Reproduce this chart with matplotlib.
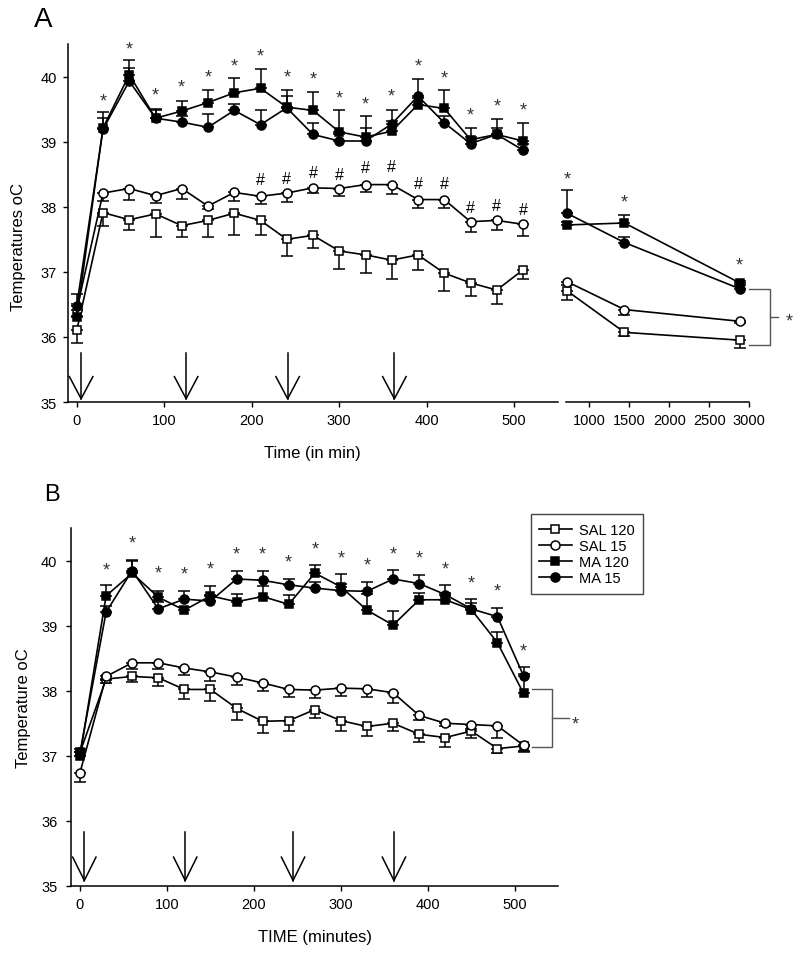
import matplotlib
matplotlib.use('Agg')
import matplotlib.pyplot as plt

plt.rcParams['font.family'] = ['Liberation Sans', 'DejaVu Sans']

# ---------------- data ----------------
times = [0, 30, 60, 90, 120, 150, 180, 210, 240, 270, 300, 330, 360, 390, 420, 450, 480, 510]
times_late = [720, 1440, 2880]

labels = ['SAL 120', 'SAL 15', 'MA 120', 'MA 15']

# Panel A (early time course)
A_sal120 = [36.10, 37.91, 37.80, 37.89, 37.71, 37.79, 37.90, 37.79, 37.50, 37.56, 37.32, 37.26, 37.18, 37.26, 36.98, 36.83, 36.72, 37.03]
A_sal120_err = [0.19, 0.20, 0.15, 0.35, 0.18, 0.25, 0.34, 0.22, 0.26, 0.19, 0.28, 0.28, 0.29, 0.23, 0.28, 0.20, 0.21, 0.14]
A_sal15 = [36.42, 38.21, 38.28, 38.17, 38.28, 38.01, 38.22, 38.16, 38.21, 38.29, 38.28, 38.34, 38.34, 38.11, 38.11, 37.77, 37.79, 37.73]
A_sal15_err = [0.10, 0.12, 0.18, 0.12, 0.16, 0.05, 0.13, 0.12, 0.13, 0.08, 0.12, 0.11, 0.14, 0.13, 0.13, 0.16, 0.14, 0.18]
A_ma120 = [36.30, 39.21, 40.03, 39.36, 39.47, 39.60, 39.75, 39.82, 39.53, 39.48, 39.15, 39.07, 39.16, 39.57, 39.51, 39.03, 39.11, 39.01]
A_ma120_err = [0.20, 0.24, 0.22, 0.14, 0.15, 0.20, 0.23, 0.30, 0.27, 0.29, 0.34, 0.32, 0.15, 0.10, 0.29, 0.18, 0.24, 0.28]
A_ma15 = [36.48, 39.19, 39.93, 39.36, 39.30, 39.22, 39.48, 39.26, 39.52, 39.11, 39.01, 39.01, 39.27, 39.70, 39.29, 38.97, 39.11, 38.87]
A_ma15_err = [0.18, 0.18, 0.20, 0.12, 0.10, 0.20, 0.10, 0.23, 0.18, 0.17, 0.10, 0.20, 0.22, 0.26, 0.10, 0.10, 0.10, 0.10]

# Panel A (late time points)
A2_sal120 = [36.71, 36.07, 35.95]
A2_sal120_err = [0.14, 0.05, 0.12]
A2_sal15 = [36.85, 36.42, 36.24]
A2_sal15_err = [0.05, 0.09, 0.03]
A2_ma120 = [37.72, 37.75, 36.83]
A2_ma120_err = [0.05, 0.12, 0.03]
A2_ma15 = [37.90, 37.45, 36.74]
A2_ma15_err = [0.36, 0.08, 0.05]

# Panel B
B_sal120 = [37.05, 38.18, 38.22, 38.20, 38.02, 38.02, 37.73, 37.53, 37.54, 37.71, 37.54, 37.45, 37.50, 37.33, 37.28, 37.38, 37.11, 37.15]
B_sal120_err = [0.05, 0.06, 0.08, 0.12, 0.15, 0.17, 0.18, 0.18, 0.16, 0.13, 0.16, 0.14, 0.12, 0.12, 0.14, 0.11, 0.07, 0.10]
B_sal15 = [36.74, 38.22, 38.43, 38.43, 38.35, 38.29, 38.21, 38.12, 38.02, 38.01, 38.04, 38.03, 37.97, 37.62, 37.50, 37.48, 37.46, 37.16]
B_sal15_err = [0.15, 0.05, 0.10, 0.10, 0.11, 0.14, 0.12, 0.12, 0.12, 0.12, 0.12, 0.13, 0.16, 0.07, 0.05, 0.07, 0.18, 0.08]
B_ma120 = [37.00, 39.46, 39.81, 39.44, 39.24, 39.46, 39.37, 39.45, 39.33, 39.81, 39.60, 39.24, 39.01, 39.40, 39.40, 39.25, 38.74, 37.96]
B_ma120_err = [0.05, 0.16, 0.20, 0.10, 0.05, 0.15, 0.12, 0.16, 0.14, 0.12, 0.20, 0.25, 0.22, 0.10, 0.10, 0.10, 0.16, 0.30]
B_ma15 = [37.05, 39.21, 39.85, 39.26, 39.41, 39.38, 39.72, 39.70, 39.63, 39.58, 39.54, 39.53, 39.72, 39.65, 39.48, 39.26, 39.14, 38.23]
B_ma15_err = [0.05, 0.10, 0.15, 0.10, 0.13, 0.10, 0.12, 0.15, 0.09, 0.10, 0.10, 0.15, 0.14, 0.13, 0.14, 0.15, 0.14, 0.13]

# significance marks
A_star_t = times[1:]
A_star_y = [39.72, 40.52, 39.80, 39.93, 40.08, 40.25, 40.41, 40.08, 40.05, 39.76, 39.67, 39.79, 40.25, 40.07, 39.50, 39.64, 39.57]
A_hash_t = [210, 240, 270, 300, 330, 360, 390, 420, 450, 480, 510]
A_hash_y = [38.44, 38.46, 38.55, 38.52, 38.62, 38.64, 38.37, 38.38, 38.01, 38.04, 37.98]
A2_star_y = [38.52, 38.16, 37.19]
B_star_t = times[1:]
B_star_y = [39.95, 40.36, 39.90, 39.89, 39.96, 40.20, 40.20, 40.08, 40.28, 40.13, 40.03, 40.19, 40.14, 39.96, 39.75, 39.62, 38.71]

# injection arrows (time, in min)
A_arrows = [5, 125, 241, 363]
B_arrows = [5, 121, 245, 361]

# group brackets (top, bottom)
A_bracket = (36.74, 35.87)
B_bracket = (38.02, 37.14)

yticks = [35, 36, 37, 38, 39, 40]
xticks_early = [0, 100, 200, 300, 400, 500]
xticks_late = [1000, 1500, 2000, 2500, 3000]

# ---------------- styles ----------------
styles = {
    'SAL 120': dict(marker='s', mfc='white', ms=6.0, down=True),
    'SAL 15': dict(marker='o', mfc='white', ms=6.5, down=True),
    'MA 120': dict(marker='s', mfc='black', ms=6.0, down=False),
    'MA 15': dict(marker='o', mfc='black', ms=6.5, down=False),
}

STAR_SIZE = 13
STAR_OFF = -7.5

W, H = 800, 954
fig = plt.figure(figsize=(8, 9.54), dpi=100)


def fx(px):
    return px / W


def fy(py):
    return 1 - py / H


axA = fig.add_axes([fx(68), fy(403), fx(558) - fx(68), fy(45) - fy(403)])
axA2 = fig.add_axes([fx(566), fy(403), fx(749.3) - fx(566), fy(45) - fy(403)])
axB = fig.add_axes([fx(71.3), fy(886.7), fx(558.3) - fx(71.3), fy(529.3) - fy(886.7)])


def draw_series(ax, t, vals, errs, label, z):
    st = styles[label]
    zeros = [0] * len(errs)
    yerr = [errs, zeros] if st['down'] else [zeros, errs]
    ax.errorbar(t, vals, yerr=yerr, fmt='none', ecolor='black', elinewidth=1.1,
                capsize=4.2, capthick=1.1, zorder=z, clip_on=False)
    line, = ax.plot(t, vals, color='black', lw=1.2, marker=st['marker'], ms=st['ms'],
                    mfc=st['mfc'], mec='black', mew=1.1, zorder=z + 0.5,
                    label=label, clip_on=False)
    return line


def style_axis(ax, left=True):
    for s in ['top', 'right']:
        ax.spines[s].set_visible(False)
    ax.spines['bottom'].set_linewidth(1.1)
    ax.spines['left'].set_linewidth(1.1)
    if not left:
        ax.spines['left'].set_visible(False)
        ax.set_yticks([])
    ax.tick_params(direction='out', length=3.5, width=1.0, labelsize=10.5, pad=4.5)
    ax.set_facecolor('none')


def draw_arrows(ax, xs, top, tip, head, hw):
    for x in xs:
        ax.plot([x, x], [top, tip], color='black', lw=1.1, clip_on=False, zorder=2)
        ax.plot([x - hw, x, x + hw], [head, tip, head], color='black', lw=1.1,
                clip_on=False, zorder=2)


def stars(ax, t, y, s, off, color, size):
    for xi, yi in zip(t, y):
        ax.annotate(s, (xi, yi), xytext=(0, off), textcoords='offset points',
                    ha='center', va='baseline', fontsize=size, color=color,
                    annotation_clip=False)


def bracket(ax, x0, x1, x2, top, bottom, xs, ys):
    c = '#555555'
    ax.plot([x0, x1, x1, x0], [top, top, bottom, bottom], color=c, lw=1.0, clip_on=False)
    mid = (top + bottom) / 2
    ax.plot([x1, x2], [mid, mid], color=c, lw=1.0, clip_on=False)
    ax.annotate('*', (xs, ys), xytext=(0, STAR_OFF), textcoords='offset points',
                ha='center', va='baseline', fontsize=STAR_SIZE, color='#333333',
                annotation_clip=False)


# ---------------- Panel A ----------------
A_sets = [(A_sal120, A_sal120_err), (A_sal15, A_sal15_err), (A_ma120, A_ma120_err), (A_ma15, A_ma15_err)]
A2_sets = [(A2_sal120, A2_sal120_err), (A2_sal15, A2_sal15_err), (A2_ma120, A2_ma120_err), (A2_ma15, A2_ma15_err)]
for i, (lab, (v, e), (v2, e2)) in enumerate(zip(labels, A_sets, A2_sets)):
    draw_series(axA, times, v, e, lab, 3 + i)
    draw_series(axA2, times_late, v2, e2, lab, 3 + i)

for ax in (axA, axA2):
    ax.set_ylim(35, 40.5)
axA.set_xlim(-10, 550)
axA2.set_xlim(709, 3000)
style_axis(axA)
style_axis(axA2, left=False)
axA.set_yticks(yticks)
axA.set_xticks(xticks_early)
axA2.set_xticks(xticks_late)

draw_arrows(axA, A_arrows, 35.76, 35.05, 35.39, 13.4)
stars(axA, A_star_t, A_star_y, '*', STAR_OFF, '#333333', STAR_SIZE)
stars(axA, A_hash_t, A_hash_y, '#', -4.2, 'black', 11.5)
stars(axA2, times_late, A2_star_y, '*', STAR_OFF, '#333333', STAR_SIZE)
bracket(axA2, 2996, 3259, 3359, A_bracket[0], A_bracket[1], 3496, 36.33)

axA.set_ylabel('Temperatures oC', fontsize=12, va='center')
axA.yaxis.set_label_coords(-0.101, 0.437)
axA.set_xlabel('Time (in min)', fontsize=12, va='center')
axA.xaxis.set_label_coords(0.498, -0.140)

# ---------------- Panel B ----------------
B_sets = [(B_sal120, B_sal120_err), (B_sal15, B_sal15_err), (B_ma120, B_ma120_err), (B_ma15, B_ma15_err)]
handles = []
for i, (lab, (v, e)) in enumerate(zip(labels, B_sets)):
    handles.append(draw_series(axB, times, v, e, lab, 3 + i))

axB.set_ylim(35, 40.5)
axB.set_xlim(-10, 550)
style_axis(axB)
axB.tick_params(axis='y', pad=6.5)
axB.set_yticks(yticks)
axB.set_xticks(xticks_early)

draw_arrows(axB, B_arrows, 35.82, 35.08, 35.44, 13.4)
stars(axB, B_star_t, B_star_y, '*', STAR_OFF, '#333333', STAR_SIZE)
bracket(axB, 520, 543, 562, B_bracket[0], B_bracket[1], 570, B_bracket[0] / 2 + B_bracket[1] / 2)

axB.set_ylabel('Temperature oC', fontsize=12, va='center')
axB.yaxis.set_label_coords(-0.099, 0.5)
axB.set_xlabel('TIME (minutes)', fontsize=12, va='center')
axB.xaxis.set_label_coords(0.5, -0.141)

leg = axB.legend(handles, labels, loc='upper left', bbox_to_anchor=(fx(530.7), fy(515)),
                 bbox_transform=fig.transFigure, frameon=True, fancybox=False,
                 edgecolor='#444444', framealpha=1, fontsize=10.5, handlelength=2.2,
                 handletextpad=0.5, labelspacing=0.15, borderpad=0.6, borderaxespad=0)
leg.get_frame().set_linewidth(1.0)

# panel letters
fig.text(fx(43), fy(20), 'A', fontsize=20, ha='center', va='center')
fig.text(fx(52), fy(495), 'B', fontsize=17, ha='center', va='center')

fig.savefig('out.png', dpi=100, facecolor='white')
